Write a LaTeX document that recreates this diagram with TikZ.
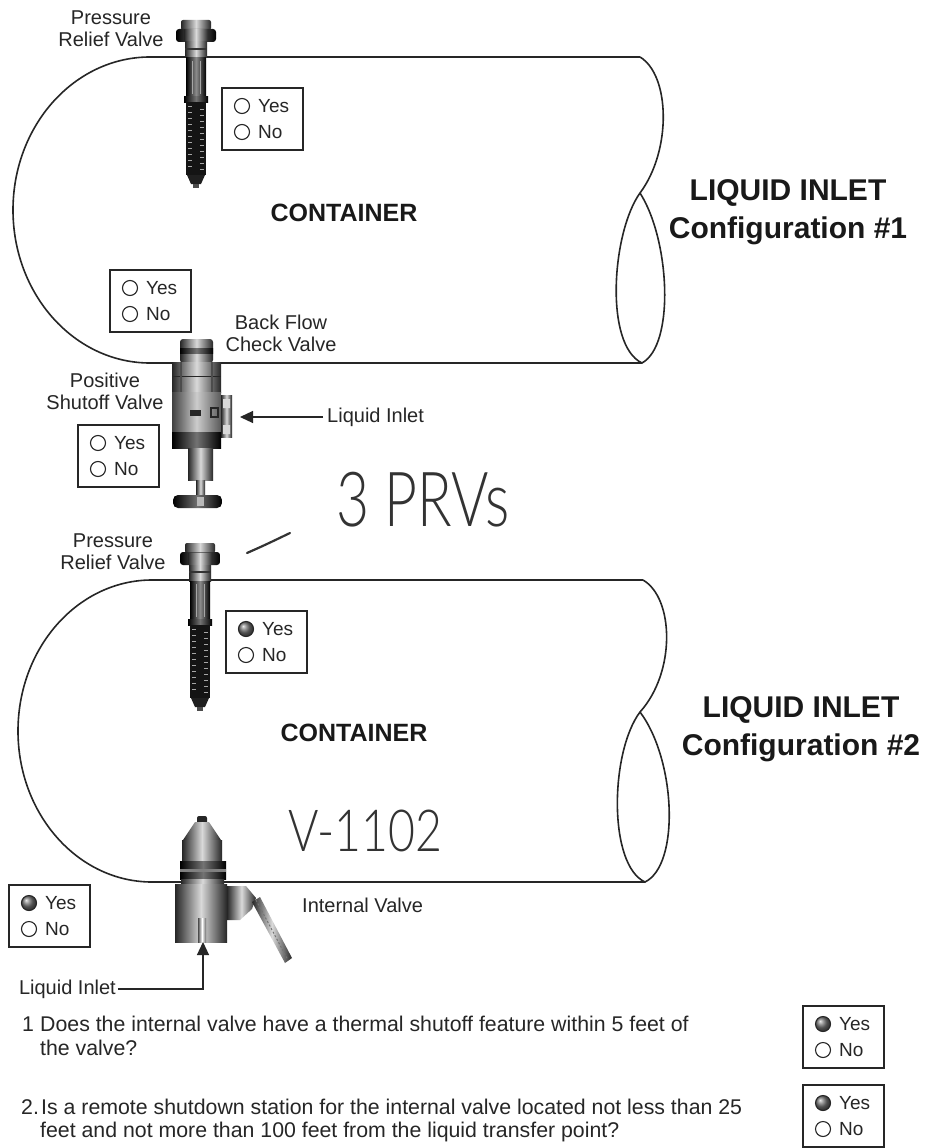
\documentclass[tikz,border=0pt]{standalone}
\usepackage{fontspec}
\usepackage{graphicx}
\setmainfont{Liberation Sans}
\IfFontExistsTF{Lato Light}{\newfontfamily\handfont{Lato Light}}{\newfontfamily\handfont{Lato}}
\usetikzlibrary{arrows.meta}

\tikzset{
  tank/.style={draw=black!85, line width=1.6pt},
  lbl/.style={font=\fontsize{20}{22}\selectfont, text=black!85, inner sep=0pt, align=center},
  ctn/.style={font=\fontsize{25}{28}\selectfont\bfseries, text=black!90, inner sep=0pt},
  cfg/.style={font=\fontsize{30}{38}\selectfont\bfseries, text=black!90, inner sep=0pt, align=center},
  qtext/.style={font=\fontsize{21.3}{24}\selectfont, text=black!85, inner sep=0pt, anchor=base west},
  yn/.style={font=\fontsize{19}{21}\selectfont, text=black!85, inner sep=0pt, anchor=west},
  hand/.style={text=black!80, inner sep=0pt},
  cyl/.style={left color=black!85, right color=black!85, middle color=black!15},
  cyllight/.style={left color=black!70, right color=black!60, middle color=white},
  cyldark/.style={left color=black, right color=black, middle color=black!55},
  inarrow/.style={draw=black!85, line width=1.2pt, -{Triangle[length=13pt,width=12pt]}},
  yesmark/.style={fill=white},
  checked/.style={yesmark/.style={ball color=black!55}},
  % Yes / No answer box
  yesno/.pic={
    \draw[line width=2.4pt, draw=black!85, fill=white] (0,0) rectangle (81,62);
    \path[draw=black!85, line width=1.1pt, yesmark] (20,18) circle[radius=7.5];
    \path[draw=black!85, line width=1.1pt, fill=white] (20,44) circle[radius=7.5];
    \node[yn] (-yes) at (36,18) {Yes};
    \node[yn] (-no) at (36,44) {No};
  },
  % pressure relief valve, origin at the shell line
  prv/.pic={
    \shade[cyl, rounded corners=2pt] (-15,-37) rectangle (15,-27);
    \shade[cyldark, rounded corners=3pt] (-20,-28) rectangle (20,-15);
    \shade[cyl] (-12,-27) rectangle (12,-16);
    \shade[cyl] (-11,-15) rectangle (11,1);
    \draw[black!80, line width=1.5pt] (-11,-8) -- (11,-8);
    \shade[left color=black, right color=black, middle color=black!45] (-10,1) rectangle (10,40);
    \draw[gray!70, line width=0.8pt] (-4,4) -- (-4,37) (4,4) -- (4,37);
    \shade[cyldark] (-12,39) rectangle (12,45);
    \fill[black!92] (-10,45) rectangle (10,118);
    \foreach \t in {49,55,...,113} {
      \draw[black!35, line width=0.7pt] (-8,\t) -- (-4,\t) (4,\t+3) -- (8,\t+3);
    }
    \fill[black!88] (-9,118) -- (9,118) -- (5,127) -- (-5,127) -- cycle;
    \fill[black!70] (-3,127) rectangle (3,131);
  },
  % back flow check valve with positive shutoff valve
  cv/.pic={
    \shade[cyl, rounded corners=3pt] (-16,-23) rectangle (17,1);
    \shade[cyldark] (-16,-14) rectangle (17,-9);
    \shade[cyl] (-24,0) rectangle (25,14);
    \shade[cyl] (-24,15) rectangle (25,30);
    \draw[black!85, line width=1.5pt] (-24,14.5) -- (25,14.5);
    \draw[black!70, line width=1.2pt] (-15,0) -- (-15,30) (16,0) -- (16,30);
    \shade[left color=black!75, right color=black!65, middle color=black!20] (-24,30) rectangle (25,70);
    \shade[cyl] (25,33) rectangle (36,75);
    \fill[black!15] (27,37) rectangle (34,46) (27,63) rectangle (34,72);
    \fill[black!85] (-6,48) rectangle (5,54);
    \draw[black!85, line width=1.2pt] (15,46) rectangle (22,55);
    \shade[cyldark] (-24,70) rectangle (25,86);
    \shade[cyl] (-8,86) rectangle (17,118);
    \shade[cyl] (0,118) rectangle (9,134);
    \shade[cyldark, rounded corners=5pt] (-23,133) rectangle (26,146);
    \fill[gray!55] (1,135) rectangle (8,144);
    \coordinate (-port) at (44,55);
  },
  % internal valve with lever
  iv/.pic={
    \fill[black!85, rounded corners=2pt] (-5,-66) rectangle (5,-58);
    \shade[cyl] (-7,-60) -- (7,-60) -- (19,-42) -- (-19,-42) -- cycle;
    \shade[cyl] (-20,-42) rectangle (20,-21);
    \shade[cyldark] (-22,-21) rectangle (24,-3);
    \fill[black!50] (-22,-13) rectangle (24,-10);
    \shade[cyl] (-21,-3) rectangle (22,3);
    \shade[cyl] (25,4) -- (44,4) -- (54,16) -- (50,27) -- (38,38) -- (25,38) -- cycle;
    \shade[cyl] (-27,2) rectangle (25,60);
    \shade[cyl] (50,20) -- (58,15) -- (90,76) -- (83,81) -- cycle;
    \draw[black!55, dash pattern=on 2pt off 2pt, line width=1pt] (54,18) -- (86,78);
    \shade[cyllight] (-4,36) rectangle (4,60);
    \coordinate (-port) at (1,60);
  },
}

\begin{document}
\begin{tikzpicture}[x=1pt,y=-1pt]
\useasboundingbox (0,0) rectangle (927,1148);
\fill[white] (0,0) rectangle (927,1148);

% ---------- configuration 1 ----------
\draw[tank] (640,57) -- (150,57) arc[start angle=270,end angle=90,x radius=137,y radius=153] -- (642,363);
\draw[tank] (640,57) .. controls (670,75) and (672,150) .. (640,193)
  .. controls (612,232) and (604,345) .. (642,363)
  .. controls (675,345) and (670,240) .. (640,193);

\pic (prv1) at (196,57) {prv};
\pic (cv) at (196,362) {cv};

\node[lbl] (prv1lbl) at (111,29) {Pressure\\Relief Valve};
\node[lbl] (cvlbl) at (281,333) {Back Flow\\Check Valve};
\node[lbl] (psvlbl) at (105,391) {Positive\\Shutoff Valve};
\node[lbl, anchor=west] (lin1) at (327,417) {Liquid Inlet};
\draw[inarrow, shorten <=4pt] (lin1.west) -- (cv-port);

\node[ctn] (c1) at (344,213) {CONTAINER};
\node[cfg] (cfg1) at (788,212) {LIQUID INLET\\Configuration \#1};

\pic (b1) at (222,88) {yesno};
\pic (b2) at (110,270) {yesno};
\pic (b3) at (78,425) {yesno};

% handwritten note
\draw[black!80, line width=2.2pt, line cap=round] (247,553) .. controls (265,545) .. (290,533);
\node[hand, font=\handfont\fontsize{76}{80}\selectfont] (prvnote) at (423,500) {\scalebox{0.75}[1]{3 PRVs}};

% ---------- configuration 2 ----------
\draw[tank] (643,580) -- (152,580) arc[start angle=270,end angle=90,x radius=134,y radius=151] -- (645,882);
\draw[tank] (643,580) .. controls (674,598) and (676,672) .. (640,712)
  .. controls (610,752) and (608,865) .. (645,882)
  .. controls (680,865) and (676,760) .. (640,712);

\pic (prv2) at (200,580) {prv};
\pic (iv) at (202,882) {iv};

\node[lbl] (prv2lbl) at (113,552) {Pressure\\Relief Valve};
\node[lbl, anchor=west] (ivlbl) at (302,905) {Internal Valve};
\node[lbl, anchor=east] (lin2) at (116,989) {Liquid Inlet};
\draw[inarrow, shorten <=2pt] (lin2.east) -| (iv-port);

\node[ctn] (c2) at (354,733) {CONTAINER};
\node[cfg] (cfg2) at (801,729) {LIQUID INLET\\Configuration \#2};

\node[hand, font=\handfont\fontsize{58}{62}\selectfont] (tag) at (365,831) {\scalebox{0.8}[1]{V-1102}};

\pic[checked] (b4) at (226,611) {yesno};
\pic[checked] (b5) at (9,885) {yesno};

% ---------- questions ----------
\node[qtext] (q1n) at (22,1031) {1};
\node[qtext] (q1) at (40,1031) {Does the internal valve have a thermal shutoff feature within 5 feet of};
\node[qtext] (q1b) at (40,1055) {the valve?};
\node[qtext] (q2n) at (21,1114) {2.};
\node[qtext] (q2) at (41,1114) {Is a remote shutdown station for the internal valve located not less than 25};
\node[qtext] (q2b) at (40,1137) {feet and not more than 100 feet from the liquid transfer point?};

\pic[checked] (ba) at (803,1006) {yesno};
\pic[checked] (bb) at (803,1085) {yesno};
\end{tikzpicture}
\end{document}
